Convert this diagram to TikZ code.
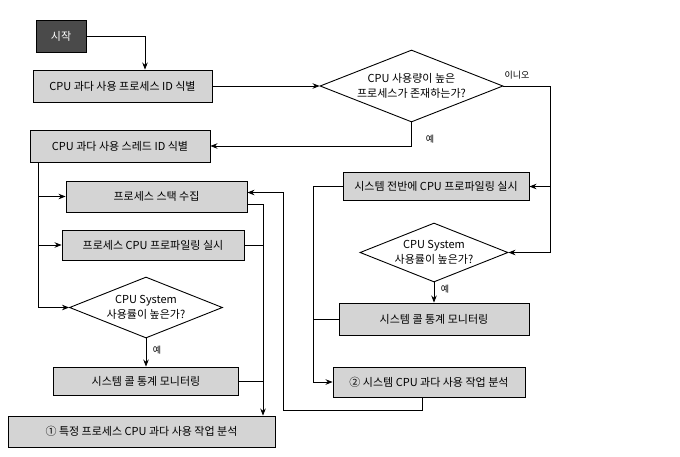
\documentclass[tikz,border=0pt]{standalone}
\usepackage{fontspec}
\newfontfamily\krfont{Noto Sans CJK KR}
\usetikzlibrary{shapes.geometric,arrows.meta}
\definecolor{boxgray}{HTML}{D4D4D4}
\definecolor{startgray}{HTML}{4A4A4A}
\begin{document}
\begin{tikzpicture}[x=1pt,y=-1pt,
  every node/.style={font=\krfont\fontsize{11}{15}\selectfont},
  box/.style={draw=black,line width=0.9pt,fill=boxgray,rectangle,inner sep=0pt},
  startbox/.style={draw=black,line width=0.9pt,fill=startgray,text=white,rectangle,inner sep=0pt},
  dia/.style={draw=black,line width=0.9pt,fill=white,diamond,shape aspect=2.5,inner sep=0pt,align=center},
  ln/.style={line width=0.8pt},
  arr/.style={line width=0.8pt,-{Stealth[length=7pt,width=5.5pt]}},
  lbl/.style={font=\krfont\fontsize{9}{11}\selectfont}]
\useasboundingbox (0,0) rectangle (680,456);
% nodes
\node[startbox,minimum width=50pt,minimum height=32pt] (start) at (61,36) {시작};
\node[box,minimum width=179pt,minimum height=32pt] (b1) at (122.5,86) {CPU 과다 사용 프로세스 ID 식별};
\node[dia,minimum width=183pt,minimum height=72pt] (d1) at (411.5,86) {CPU 사용량이 높은\\프로세스가 존재하는가?};
\node[box,minimum width=180pt,minimum height=32pt] (b2) at (120,146) {CPU 과다 사용 스레드 ID 식별};
\node[box,minimum width=181pt,minimum height=31pt] (stack) at (156.5,196.5) {프로세스 스택 수집};
\node[box,minimum width=182pt,minimum height=30pt] (prof) at (153,245) {프로세스 CPU 프로파일링 실시};
\node[dia,minimum width=153pt,minimum height=61pt] (d3) at (146,307.5) {CPU System\\사용률이 높은가?};
\node[box,minimum width=185pt,minimum height=28pt] (call1) at (146,381) {시스템 콜 통계 모니터링};
\node[box,minimum width=267pt,minimum height=31pt] (r1) at (141.5,431.5) {① 특정 프로세스 CPU 과다 사용 작업 분석};
\node[box,minimum width=186pt,minimum height=28pt] (sys) at (436,186.5) {시스템 전반에 CPU 프로파일링 실시};
\node[dia,minimum width=148pt,minimum height=59pt] (d2) at (434,252.5) {CPU System\\사용률이 높은가?};
\node[box,minimum width=190pt,minimum height=32pt] (call2) at (434,319) {시스템 콜 통계 모니터링};
\node[box,minimum width=192pt,minimum height=30pt] (r2) at (429,382) {② 시스템 CPU 과다 사용 작업 분석};
% helper coordinates
\coordinate (tr) at (38,0);
\coordinate (rv) at (263,0);
\coordinate (lp) at (283,410);
\coordinate (sl) at (313,0);
\coordinate (nr) at (550,0);
% connectors
\draw[arr] (start.east) -| ([xshift=22.5pt]b1.north);
\draw[arr] (b1.east) -- (d1.west);
\draw[arr] (d1.south) |- (b2.east);
\draw[arr] (d1.east) -| (nr |- sys.east) -- (sys.east);
\draw[arr] (d1.east -| nr) |- (d2.east);
\draw[arr] (b2.south -| tr) |- (stack.west);
\draw[arr] (b2.south -| tr) |- (prof.west);
\draw[arr] (b2.south -| tr) |- (d3.west);
\draw[arr] (d3.south) -- (call1.north);
\draw[arr] ([yshift=-8pt]stack.east) -| (rv |- r1.north);
\draw[ln] (prof.east) -- (prof.east -| rv);
\draw[ln] (call1.east) -- (call1.east -| rv);
\draw[arr] ([xshift=-7pt]r2.south) |- (lp) |- ([yshift=4pt]stack.east);
\draw[arr] (sys.west) -| (sl |- r2.west) -- (r2.west);
\draw[ln] (call2.west) -- (call2.west -| sl);
\draw[arr] (d2.south) -- (call2.north);
% labels
\node[lbl] (no1) at (517,75) {이니오};
\node[lbl] (yes1) at (430,139) {예};
\node[lbl] (yes3) at (157,350) {예};
\node[lbl] (yes2) at (445,289) {예};
\end{tikzpicture}
\end{document}
